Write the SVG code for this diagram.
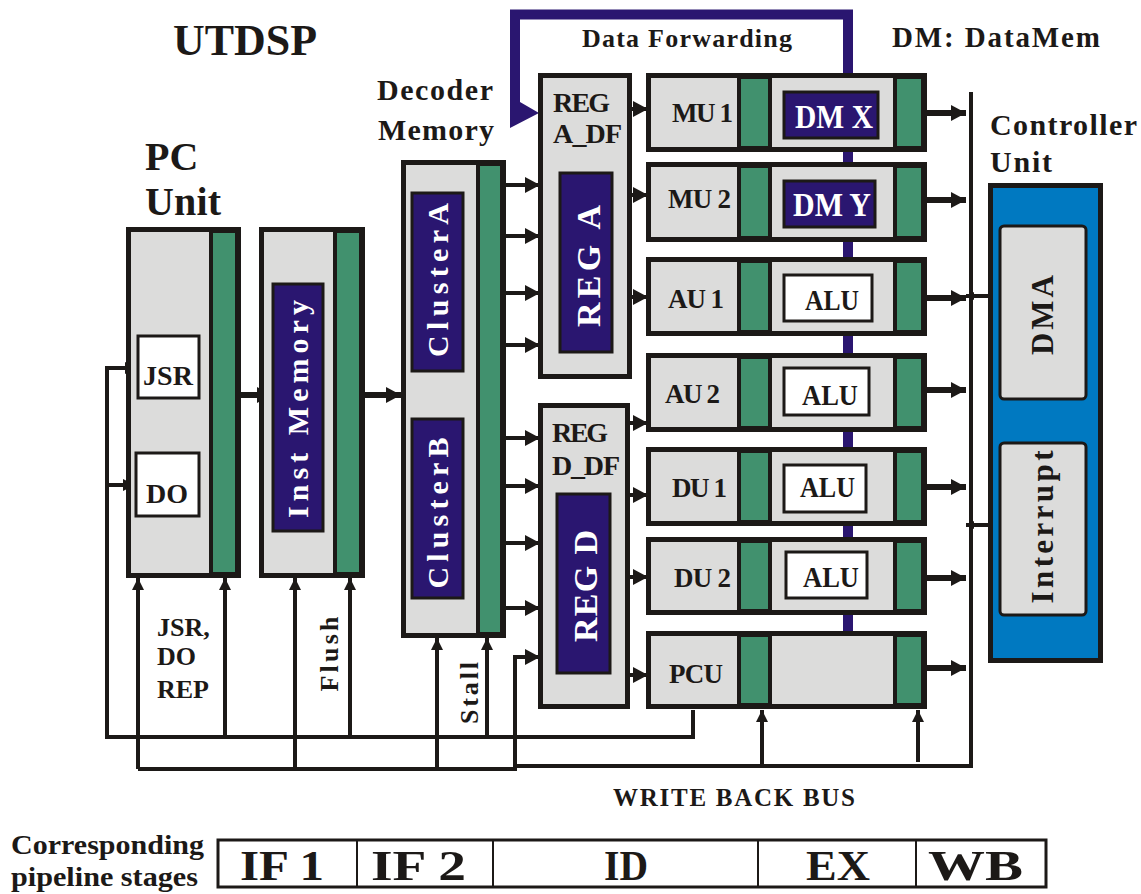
<svg xmlns="http://www.w3.org/2000/svg" width="1141" height="894" viewBox="0 0 1141 894">
  <style>
    .box { fill: #dcdcdb; stroke: #1c1917; stroke-width: 5; }
    .grn { fill: #41916e; stroke: #1c1917; stroke-width: 4; }
    .nav { fill: #2a1670; stroke: #1c1917; stroke-width: 3; }
    .wht { fill: #ffffff; stroke: #1c1917; stroke-width: 3; }
    .t { font-family: "Liberation Serif", "Times New Roman", serif; font-weight: bold; fill: #1c1917; }
    .tw { fill: #ffffff; }
    .wire { fill: none; stroke: #1c1917; stroke-width: 4; }
    .fat { fill: none; stroke: #1c1917; stroke-width: 6; }
    .fwd { fill: none; stroke: #2a1670; stroke-width: 10; }
  </style>
  <defs>
    <marker id="ah" markerUnits="userSpaceOnUse" markerWidth="16" markerHeight="16" refX="15" refY="8" orient="auto">
      <path d="M0,0 L15,8 L0,16 z" fill="#1c1917"/>
    </marker>
    <marker id="as" markerUnits="userSpaceOnUse" markerWidth="12" markerHeight="12" refX="12" refY="6" orient="auto">
      <path d="M0,0 L12,6 L0,12 z" fill="#1c1917"/>
    </marker>
    <marker id="at" markerUnits="userSpaceOnUse" markerWidth="8" markerHeight="8" refX="8" refY="4" orient="auto">
      <path d="M0,0 L8,4 L0,8 z" fill="#1c1917"/>
    </marker>
  </defs>

  <rect x="0" y="0" width="1141" height="894" fill="#ffffff"/>

  <!-- headings -->
  <g id="headings">
    <text class="t" x="173" y="55" font-size="44" textLength="144" lengthAdjust="spacingAndGlyphs">UTDSP</text>
    <text class="t" x="145" y="170" font-size="40">PC</text>
    <text class="t" x="145" y="215" font-size="40" textLength="76">Unit</text>
    <text class="t" x="377" y="100" font-size="30" textLength="116">Decoder</text>
    <text class="t" x="378" y="140" font-size="30" textLength="116">Memory</text>
    <text class="t" x="582" y="47" font-size="26" textLength="210">Data Forwarding</text>
    <text class="t" x="892" y="47" font-size="29" textLength="208">DM: DataMem</text>
    <text class="t" x="990" y="135" font-size="30" textLength="147">Controller</text>
    <text class="t" x="990" y="172" font-size="30" textLength="62">Unit</text>
  </g>

  <!-- data forwarding loop, drawn under the units -->
  <g id="forwarding">
    <path class="fwd" d="M848,631 V14.5 H515 V102"/>
    <polygon points="510,98 520,98 520,102 539,113 510,128" fill="#2a1670"/>
  </g>

  <!-- connectors -->
  <g id="connectors">
    <!-- PC unit to Inst Memory to Decoder Memory -->
    <line class="fat" x1="240" y1="395" x2="272" y2="395" marker-end="url(#ah)"/>
    <line class="fat" x1="365" y1="395" x2="401" y2="395" marker-end="url(#ah)"/>
    <!-- Decoder Memory to register files -->
    <line class="wire" x1="505" y1="185" x2="540" y2="185" stroke-width="5" marker-end="url(#ah)"/>
    <line class="wire" x1="505" y1="236" x2="540" y2="236" stroke-width="5" marker-end="url(#ah)"/>
    <line class="wire" x1="505" y1="293" x2="540" y2="293" stroke-width="5" marker-end="url(#ah)"/>
    <line class="wire" x1="505" y1="345" x2="540" y2="345" stroke-width="5" marker-end="url(#ah)"/>
    <line class="wire" x1="505" y1="438" x2="540" y2="438" stroke-width="5" marker-end="url(#ah)"/>
    <line class="wire" x1="505" y1="486" x2="540" y2="486" stroke-width="5" marker-end="url(#ah)"/>
    <line class="wire" x1="505" y1="543" x2="540" y2="543" stroke-width="5" marker-end="url(#ah)"/>
    <line class="wire" x1="505" y1="608" x2="540" y2="608" stroke-width="5" marker-end="url(#ah)"/>
    <!-- register files to execution units -->
    <line class="wire" x1="629" y1="109" x2="648" y2="109" stroke-width="5" marker-end="url(#ah)"/>
    <line class="wire" x1="629" y1="195" x2="648" y2="195" stroke-width="5" marker-end="url(#ah)"/>
    <line class="wire" x1="629" y1="297" x2="648" y2="297" stroke-width="5" marker-end="url(#ah)"/>
    <line class="wire" x1="627" y1="423" x2="648" y2="423" stroke-width="5" marker-end="url(#ah)"/>
    <line class="wire" x1="627" y1="495" x2="648" y2="495" stroke-width="5" marker-end="url(#ah)"/>
    <line class="wire" x1="627" y1="577" x2="648" y2="577" stroke-width="5" marker-end="url(#ah)"/>
    <line class="wire" x1="627" y1="675" x2="648" y2="675" stroke-width="5" marker-end="url(#ah)"/>
    <!-- execution units to write back bus -->
    <line class="fat" x1="927" y1="113" x2="966" y2="113" marker-end="url(#ah)"/>
    <line class="fat" x1="927" y1="200" x2="966" y2="200" marker-end="url(#ah)"/>
    <line class="fat" x1="927" y1="298" x2="966" y2="298" marker-end="url(#ah)"/>
    <line class="fat" x1="927" y1="390" x2="966" y2="390" marker-end="url(#ah)"/>
    <line class="fat" x1="927" y1="487" x2="966" y2="487" marker-end="url(#ah)"/>
    <line class="fat" x1="927" y1="578" x2="966" y2="578" marker-end="url(#ah)"/>
    <line class="fat" x1="927" y1="668" x2="966" y2="668" marker-end="url(#ah)"/>
    <!-- write back bus -->
    <path class="wire" d="M971,92 V766 H515" stroke-width="5"/>
    <path class="wire" d="M138,769 H515 V657 H540" marker-end="url(#ah)"/>
    <line class="wire" x1="762" y1="766" x2="762" y2="710" stroke-width="3.5" marker-end="url(#as)"/>
    <line class="wire" x1="918" y1="762" x2="918" y2="710" stroke-width="3.5" marker-end="url(#as)"/>
    <!-- lower bus feeding the front stages -->
    <line class="wire" x1="138" y1="769" x2="138" y2="578" stroke-width="3.5" marker-end="url(#as)"/>
    <line class="wire" x1="295" y1="769" x2="295" y2="578" stroke-width="3.5" marker-end="url(#as)"/>
    <line class="wire" x1="437" y1="769" x2="437" y2="638" stroke-width="3.5" marker-end="url(#as)"/>
    <!-- PCU control loop: JSR, DO, flush and stall -->
    <path class="wire" d="M693,710 V737 H107 V368 H137" marker-end="url(#as)"/>
    <line class="wire" x1="107" y1="485" x2="135" y2="485" marker-end="url(#as)"/>
    <line class="wire" x1="225" y1="737" x2="225" y2="578" stroke-width="3.5" marker-end="url(#as)"/>
    <line class="wire" x1="350" y1="737" x2="350" y2="578" stroke-width="3.5" marker-end="url(#as)"/>
    <line class="wire" x1="487" y1="737" x2="487" y2="638" stroke-width="3.5" marker-end="url(#as)"/>
    <!-- controller unit to bus -->
    <line class="wire" x1="1000" y1="296" x2="966" y2="296" stroke-width="3" marker-end="url(#at)"/>
    <line class="wire" x1="1000" y1="525" x2="966" y2="525" stroke-width="3" marker-end="url(#at)"/>
  </g>

  <!-- PC unit -->
  <g id="pc-unit">
    <rect class="box" x="128.5" y="229.5" width="110" height="346"/>
    <rect class="grn" x="211" y="231" width="26" height="343"/>
    <rect class="wht" x="138" y="336" width="61" height="62"/>
    <text class="t" x="168" y="385" font-size="28" text-anchor="middle">JSR</text>
    <rect class="wht" x="136" y="453" width="63" height="63"/>
    <text class="t" x="167" y="503" font-size="28" text-anchor="middle">DO</text>
  </g>

  <!-- instruction memory -->
  <g id="inst-memory">
    <rect class="box" x="261.5" y="229.5" width="101" height="346"/>
    <rect class="grn" x="335" y="231" width="26" height="343"/>
    <rect class="nav" x="273" y="284" width="50" height="247"/>
    <text class="t tw" transform="translate(308,409) rotate(-90)" font-size="30" text-anchor="middle" textLength="218">Inst Memory</text>
  </g>

  <!-- decoder memory -->
  <g id="decoder-memory">
    <rect class="box" x="403.5" y="162.5" width="100" height="473"/>
    <rect class="grn" x="478" y="164" width="24" height="470"/>
    <rect class="nav" x="412" y="193" width="51" height="178"/>
    <text class="t tw" transform="translate(448,280) rotate(-90)" font-size="30" text-anchor="middle" textLength="154">ClusterA</text>
    <rect class="nav" x="412" y="419" width="51" height="179"/>
    <text class="t tw" transform="translate(448,513) rotate(-90)" font-size="30" text-anchor="middle" textLength="151">ClusterB</text>
  </g>

  <!-- register file A with forwarding -->
  <g id="reg-a">
    <rect class="box" x="540.5" y="75.5" width="89" height="301"/>
    <text class="t" x="553" y="112" font-size="28" textLength="57">REG</text>
    <text class="t" x="553" y="143" font-size="28" textLength="69">A_DF</text>
    <rect class="nav" x="560" y="173" width="52" height="179"/>
    <text class="t tw" transform="translate(600,266) rotate(-90)" font-size="34" text-anchor="middle" textLength="122">REG A</text>
  </g>

  <!-- register file D with forwarding -->
  <g id="reg-d">
    <rect class="box" x="540.5" y="405.5" width="87" height="301"/>
    <text class="t" x="552" y="442" font-size="28" textLength="56">REG</text>
    <text class="t" x="552" y="475" font-size="28" textLength="68">D_DF</text>
    <rect class="nav" x="557" y="494" width="53" height="179"/>
    <text class="t tw" transform="translate(597,586) rotate(-90)" font-size="34" text-anchor="middle" textLength="112">REG D</text>
  </g>

  <!-- execution units -->
  <g id="mu1">
    <rect class="box" x="648.5" y="75.5" width="276" height="74"/>
    <rect class="grn" x="739" y="77" width="31" height="71"/>
    <rect class="grn" x="895" y="77" width="28" height="71"/>
    <text class="t" x="672" y="122" font-size="27" textLength="61">MU 1</text>
    <rect class="nav" x="784" y="92" width="94" height="46"/>
    <text class="t tw" x="795" y="128" font-size="34" textLength="78" lengthAdjust="spacingAndGlyphs">DM X</text>
  </g>
  <g id="mu2">
    <rect class="box" x="648.5" y="164.5" width="276" height="75"/>
    <rect class="grn" x="739" y="166" width="31" height="72"/>
    <rect class="grn" x="895" y="166" width="28" height="72"/>
    <text class="t" x="668" y="208" font-size="27" textLength="63">MU 2</text>
    <rect class="nav" x="784" y="181" width="91" height="46"/>
    <text class="t tw" x="793" y="216" font-size="34" textLength="78" lengthAdjust="spacingAndGlyphs">DM Y</text>
  </g>
  <g id="au1">
    <rect class="box" x="648.5" y="259.5" width="276" height="74"/>
    <rect class="grn" x="739" y="261" width="31" height="71"/>
    <rect class="grn" x="895" y="261" width="28" height="71"/>
    <text class="t" x="668" y="308" font-size="27" textLength="56">AU 1</text>
    <rect class="wht" x="784" y="275" width="88" height="46"/>
    <text class="t" x="805" y="310" font-size="29" textLength="54" lengthAdjust="spacingAndGlyphs">ALU</text>
  </g>
  <g id="au2">
    <rect class="box" x="648.5" y="355.5" width="276" height="74"/>
    <rect class="grn" x="739" y="357" width="31" height="71"/>
    <rect class="grn" x="895" y="357" width="28" height="71"/>
    <text class="t" x="665" y="403" font-size="27" textLength="55">AU 2</text>
    <rect class="wht" x="784" y="368" width="85" height="47"/>
    <text class="t" x="802" y="405" font-size="29" textLength="56" lengthAdjust="spacingAndGlyphs">ALU</text>
  </g>
  <g id="du1">
    <rect class="box" x="648.5" y="449.5" width="276" height="74"/>
    <rect class="grn" x="739" y="451" width="31" height="71"/>
    <rect class="grn" x="895" y="451" width="28" height="71"/>
    <text class="t" x="672" y="497" font-size="27" textLength="55">DU 1</text>
    <rect class="wht" x="784" y="465" width="82" height="47"/>
    <text class="t" x="800" y="497" font-size="29" textLength="55" lengthAdjust="spacingAndGlyphs">ALU</text>
  </g>
  <g id="du2">
    <rect class="box" x="648.5" y="539.5" width="276" height="73"/>
    <rect class="grn" x="739" y="541" width="31" height="70"/>
    <rect class="grn" x="895" y="541" width="28" height="70"/>
    <text class="t" x="674" y="587" font-size="27" textLength="57">DU 2</text>
    <rect class="wht" x="786" y="552" width="81" height="46"/>
    <text class="t" x="803" y="587" font-size="29" textLength="56" lengthAdjust="spacingAndGlyphs">ALU</text>
  </g>
  <g id="pcu">
    <rect class="box" x="648.5" y="633.5" width="276" height="73"/>
    <rect class="grn" x="739" y="635" width="31" height="70"/>
    <rect class="grn" x="895" y="635" width="28" height="70"/>
    <text class="t" x="669" y="683" font-size="27" textLength="54">PCU</text>
  </g>

  <!-- controller unit -->
  <g id="controller-unit">
    <rect x="990.5" y="185.5" width="110" height="475" fill="#0079c1" stroke="#1c1917" stroke-width="5"/>
    <rect x="1000" y="226" width="86" height="173" rx="4" fill="#dcdcdb" stroke="#1c1917" stroke-width="3"/>
    <text class="t" transform="translate(1053,315) rotate(-90)" font-size="31" text-anchor="middle" textLength="80">DMA</text>
    <rect x="1000" y="443" width="86" height="172" rx="4" fill="#dcdcdb" stroke="#1c1917" stroke-width="3"/>
    <text class="t" transform="translate(1053,527) rotate(-90)" font-size="31" text-anchor="middle" textLength="153">Interrupt</text>
  </g>

  <!-- control signal labels -->
  <g id="signal-labels">
    <text class="t" x="157" y="636" font-size="26">JSR,</text>
    <text class="t" x="157" y="665" font-size="26">DO</text>
    <text class="t" x="157" y="698" font-size="26">REP</text>
    <text class="t" transform="translate(338,654) rotate(-90)" font-size="26" text-anchor="middle" textLength="75">Flush</text>
    <text class="t" transform="translate(478,693) rotate(-90)" font-size="26" text-anchor="middle" textLength="62">Stall</text>
    <text class="t" x="613" y="806" font-size="25" textLength="242">WRITE BACK BUS</text>
  </g>

  <!-- pipeline stage table -->
  <g id="pipeline-stages">
    <text class="t" x="11" y="854" font-size="27" textLength="193" lengthAdjust="spacingAndGlyphs">Corresponding</text>
    <text class="t" x="11" y="886" font-size="27" textLength="187" lengthAdjust="spacingAndGlyphs">pipeline stages</text>
    <rect x="218" y="840" width="828" height="47" fill="#ffffff" stroke="#1c1917" stroke-width="3"/>
    <line x1="357" y1="840" x2="357" y2="887" stroke="#1c1917" stroke-width="2"/>
    <line x1="493" y1="840" x2="493" y2="887" stroke="#1c1917" stroke-width="2"/>
    <line x1="758" y1="840" x2="758" y2="887" stroke="#1c1917" stroke-width="2"/>
    <line x1="916" y1="840" x2="916" y2="887" stroke="#1c1917" stroke-width="2"/>
    <text class="t" x="240" y="880" font-size="42" textLength="84" lengthAdjust="spacingAndGlyphs">IF 1</text>
    <text class="t" x="371" y="880" font-size="42" textLength="95" lengthAdjust="spacingAndGlyphs">IF 2</text>
    <text class="t" x="604" y="880" font-size="42" textLength="44" lengthAdjust="spacingAndGlyphs">ID</text>
    <text class="t" x="806" y="880" font-size="42" textLength="64" lengthAdjust="spacingAndGlyphs">EX</text>
    <text class="t" x="928" y="880" font-size="42" textLength="95" lengthAdjust="spacingAndGlyphs">WB</text>
  </g>
</svg>
